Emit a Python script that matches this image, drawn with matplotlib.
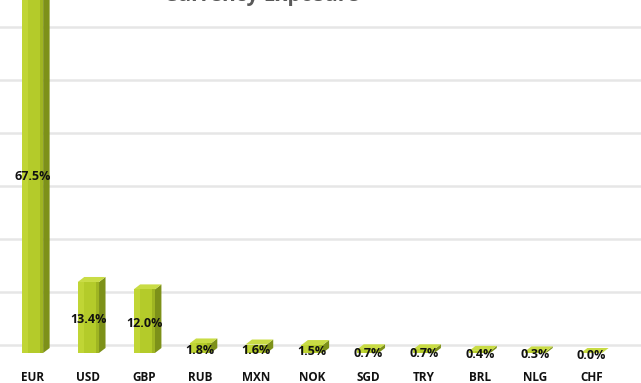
import matplotlib
matplotlib.use("Agg")
import matplotlib.pyplot as plt
import matplotlib.transforms as mtransforms
from matplotlib.patches import Polygon
import numpy as np

categories = ["EUR", "USD", "GBP", "RUB", "MXN", "NOK", "SGD", "TRY", "BRL", "NLG", "CHF"]
values = [67.5, 13.4, 12.0, 1.8, 1.6, 1.5, 0.7, 0.7, 0.4, 0.3, 0.0]
labels = ["67.5%", "13.4%", "12.0%", "1.8%", "1.6%", "1.5%", "0.7%", "0.7%", "0.4%", "0.3%", "0.0%"]
grid_vals = [0, 10, 20, 30, 40, 50, 60]
title = "Currency Exposure"

W, H, DPI = 641, 383, 100
fig = plt.figure(figsize=(W / DPI, H / DPI), dpi=DPI)
ax = fig.add_axes([0, 0, 1, 1])
px_x = 55.9   # pixels per category
px_y = 5.3    # pixels per percent
x0_pix, y0_pix = 312, 353
ax.set_xlim(5 - x0_pix / px_x, 5 + (W - x0_pix) / px_x)
ax.set_ylim(-(H - y0_pix) / px_y, y0_pix / px_y)
ax.axis("off")

# back-wall gridlines (offset upward for the 3D look)
back = mtransforms.offset_copy(ax.transData, fig=fig, x=0, y=8, units="dots")
for g in grid_vals:
    ax.plot([-0.6, 11], [g, g], color="#e6e6e6", lw=1.8, transform=back, zorder=1)

x = np.arange(len(categories))
bw = 0.38
dx = 6.5 / px_x
dy = 5.0 / px_y

for xi, v in zip(x, values):
    left = xi - bw / 2
    right = xi + bw / 2
    side = Polygon([[right, 0], [right + dx, dy], [right + dx, v + dy], [right, v]],
                   closed=True, facecolor="#7d9119", edgecolor="none", zorder=3)
    ax.add_patch(side)
    top = Polygon([[left, v], [left + dx, v + dy], [right + dx, v + dy], [right, v]],
                  closed=True, facecolor="#c9dc45", edgecolor="none", zorder=3)
    ax.add_patch(top)

# front faces with slight gradient
ax.bar(x, values, width=bw, color="#b4cb2a", zorder=4, linewidth=0)
ax.bar(x - bw * 0.35, values, width=bw * 0.3, color="#c0d535", zorder=4, linewidth=0)
ax.bar(x + bw * 0.42, values, width=bw * 0.16, color="#9fb522", zorder=4, linewidth=0)

for xi, v, lab in zip(x, values, labels):
    ax.text(xi, v / 2 - 0.4, lab, ha="center", va="center", fontsize=9,
            fontweight="bold", family=["Open Sans", "DejaVu Sans"], color="#111111", zorder=6)

for xi, c in zip(x, categories):
    ax.text(xi, -4.6, c, ha="center", va="center", fontsize=8.5,
            fontweight="bold", family=["Open Sans", "DejaVu Sans"], color="#111111", zorder=6)

fig.text(262 / W, (H - 1) / H, title, ha="center", va="baseline", fontsize=15,
         fontweight="bold", family=["Open Sans", "DejaVu Sans"], color="#595959")

fig.savefig("out.png", dpi=DPI)
